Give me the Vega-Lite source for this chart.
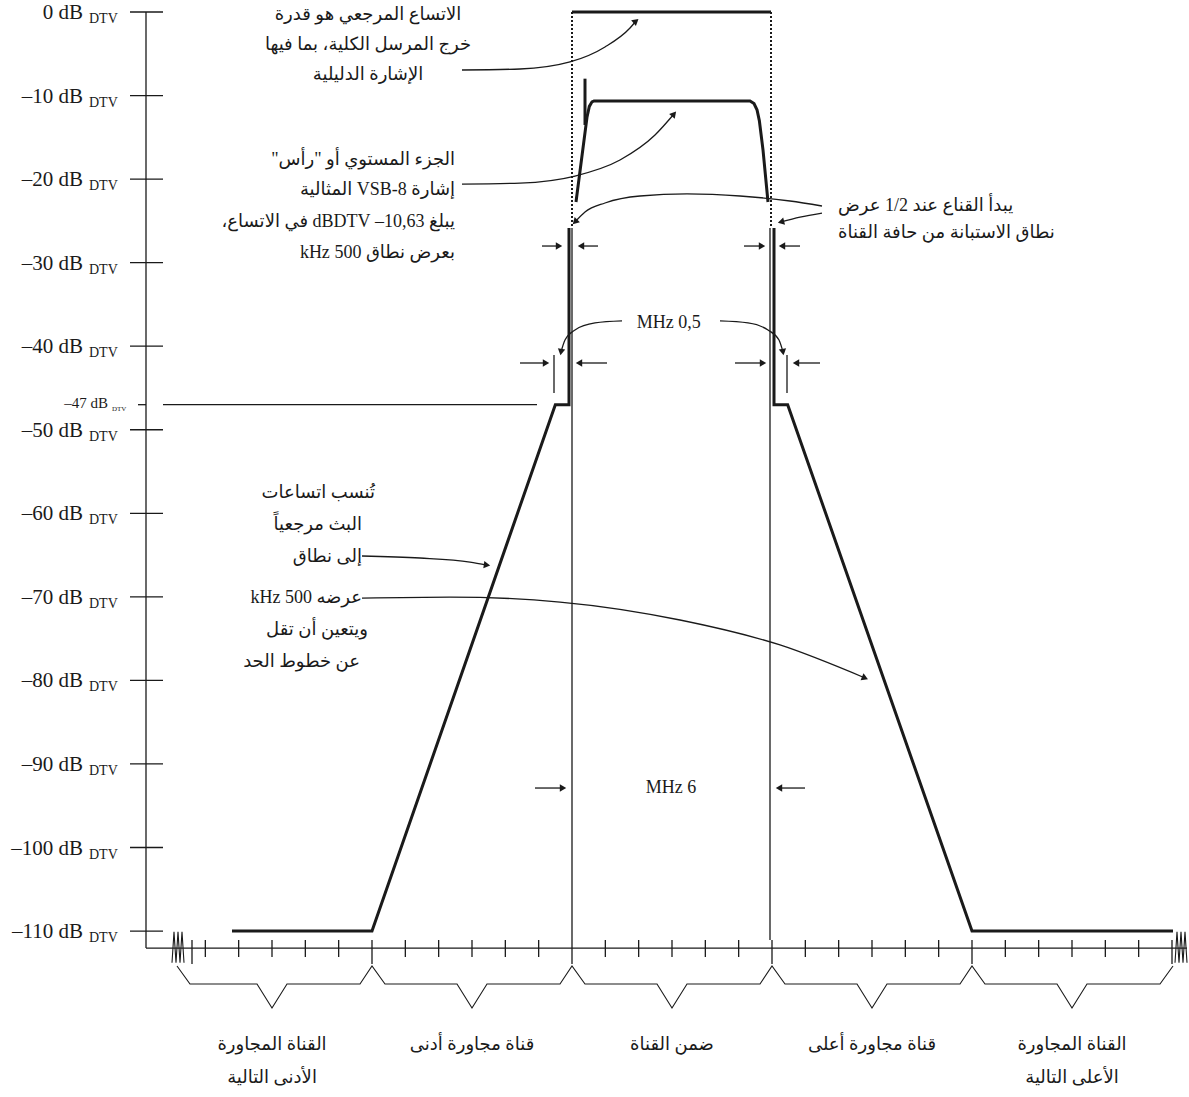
{
  "$schema": "https://vega.github.io/schema/vega-lite/v6.json",
  "width": 1189,
  "height": 1097,
  "padding": 0,
  "autosize": {"type": "none"},
  "background": "white",
  "config": {"view": {"stroke": null}},
  "datasets": {
    "segs": [
      {"x": -12.78, "y": 0, "x2": -12.78, "y2": -112.03},
      {"x": -12.78, "y": -112.03, "x2": 18.45, "y2": -112.03},
      {"x": -13.26, "y": 0, "x2": -12.27, "y2": 0},
      {"x": -13.26, "y": -10, "x2": -12.27, "y2": -10},
      {"x": -13.26, "y": -20, "x2": -12.27, "y2": -20},
      {"x": -13.26, "y": -30, "x2": -12.27, "y2": -30},
      {"x": -13.26, "y": -40, "x2": -12.27, "y2": -40},
      {"x": -13.26, "y": -50, "x2": -12.27, "y2": -50},
      {"x": -13.26, "y": -60, "x2": -12.27, "y2": -60},
      {"x": -13.26, "y": -70, "x2": -12.27, "y2": -70},
      {"x": -13.26, "y": -80, "x2": -12.27, "y2": -80},
      {"x": -13.26, "y": -90, "x2": -12.27, "y2": -90},
      {"x": -13.26, "y": -100, "x2": -12.27, "y2": -100},
      {"x": -13.26, "y": -110, "x2": -12.27, "y2": -110},
      {"x": -13.02, "y": -47, "x2": -12.78, "y2": -47},
      {"x": -12.27, "y": -47, "x2": -1.05, "y2": -47},
      {"x": -11, "y": -111.07, "x2": -11, "y2": -113.11},
      {"x": -10, "y": -111.07, "x2": -10, "y2": -113.11},
      {"x": -9, "y": -111.07, "x2": -9, "y2": -113.11},
      {"x": -8, "y": -111.07, "x2": -8, "y2": -113.11},
      {"x": -7, "y": -111.07, "x2": -7, "y2": -113.11},
      {"x": -5, "y": -111.07, "x2": -5, "y2": -113.11},
      {"x": -4, "y": -111.07, "x2": -4, "y2": -113.11},
      {"x": -3, "y": -111.07, "x2": -3, "y2": -113.11},
      {"x": -2, "y": -111.07, "x2": -2, "y2": -113.11},
      {"x": -1, "y": -111.07, "x2": -1, "y2": -113.11},
      {"x": 1, "y": -111.07, "x2": 1, "y2": -113.11},
      {"x": 2, "y": -111.07, "x2": 2, "y2": -113.11},
      {"x": 3, "y": -111.07, "x2": 3, "y2": -113.11},
      {"x": 4, "y": -111.07, "x2": 4, "y2": -113.11},
      {"x": 5, "y": -111.07, "x2": 5, "y2": -113.11},
      {"x": 7, "y": -111.07, "x2": 7, "y2": -113.11},
      {"x": 8, "y": -111.07, "x2": 8, "y2": -113.11},
      {"x": 9, "y": -111.07, "x2": 9, "y2": -113.11},
      {"x": 10, "y": -111.07, "x2": 10, "y2": -113.11},
      {"x": 11, "y": -111.07, "x2": 11, "y2": -113.11},
      {"x": 13, "y": -111.07, "x2": 13, "y2": -113.11},
      {"x": 14, "y": -111.07, "x2": 14, "y2": -113.11},
      {"x": 15, "y": -111.07, "x2": 15, "y2": -113.11},
      {"x": 16, "y": -111.07, "x2": 16, "y2": -113.11},
      {"x": 17, "y": -111.07, "x2": 17, "y2": -113.11},
      {"x": -11.4, "y": -111.07, "x2": -11.4, "y2": -113.94},
      {"x": -6, "y": -111.07, "x2": -6, "y2": -113.94},
      {"x": 0, "y": -111.07, "x2": 0, "y2": -113.94},
      {"x": 6, "y": -111.07, "x2": 6, "y2": -113.94},
      {"x": 12, "y": -111.07, "x2": 12, "y2": -113.94},
      {"x": 18, "y": -111.07, "x2": 18, "y2": -113.94},
      {"x": 0, "y": -25.85, "x2": 0, "y2": -111.07},
      {"x": 5.94, "y": -25.85, "x2": 5.94, "y2": -111.07},
      {"x": -0.54, "y": -41.05, "x2": -0.54, "y2": -45.6},
      {"x": 6.45, "y": -41.05, "x2": 6.45, "y2": -45.6},
      {"x": -0.9, "y": -28.01, "x2": -0.39, "y2": -28.01},
      {"x": 0.78, "y": -28.01, "x2": 0.27, "y2": -28.01},
      {"x": 5.16, "y": -28.01, "x2": 5.7, "y2": -28.01},
      {"x": 6.84, "y": -28.01, "x2": 6.3, "y2": -28.01},
      {"x": -1.56, "y": -42.01, "x2": -0.78, "y2": -42.01},
      {"x": 1.05, "y": -42.01, "x2": 0.21, "y2": -42.01},
      {"x": 4.89, "y": -42.01, "x2": 5.73, "y2": -42.01},
      {"x": 7.44, "y": -42.01, "x2": 6.72, "y2": -42.01},
      {"x": -1.11, "y": -92.88, "x2": -0.27, "y2": -92.88},
      {"x": 6.99, "y": -92.88, "x2": 6.21, "y2": -92.88}
    ],
    "thickSegs": [
      {"x": 0, "y": 0, "x2": 5.97, "y2": 0},
      {"x": 0.39, "y": -7.98, "x2": 0.39, "y2": -13.52}
    ],
    "dotted": [
      {"x": 0, "y": 0, "x2": 0, "y2": -25.85},
      {"x": 5.97, "y": 0, "x2": 5.97, "y2": -25.85}
    ],
    "thick": [
      {"g": "maskL", "i": 1, "x": -10.2, "y": -110},
      {"g": "maskL", "i": 2, "x": -6, "y": -110},
      {"g": "maskL", "i": 3, "x": -0.5, "y": -47},
      {"g": "maskL", "i": 4, "x": -0.09, "y": -47},
      {"g": "maskL", "i": 5, "x": -0.09, "y": -25.85},
      {"g": "maskR", "i": 1, "x": 6.06, "y": -25.85},
      {"g": "maskR", "i": 2, "x": 6.06, "y": -47},
      {"g": "maskR", "i": 3, "x": 6.47, "y": -47},
      {"g": "maskR", "i": 4, "x": 12, "y": -110},
      {"g": "maskR", "i": 5, "x": 18.03, "y": -110},
      {"g": "sig", "i": 1, "x": 0.12, "y": -22.74},
      {"g": "sig", "i": 2, "x": 0.45, "y": -12.6},
      {"g": "sig", "i": 3, "x": 0.52, "y": -11.3},
      {"g": "sig", "i": 4, "x": 0.6, "y": -10.75},
      {"g": "sig", "i": 5, "x": 0.66, "y": -10.65},
      {"g": "sig", "i": 6, "x": 5.34, "y": -10.65},
      {"g": "sig", "i": 7, "x": 5.46, "y": -10.95},
      {"g": "sig", "i": 8, "x": 5.55, "y": -11.7},
      {"g": "sig", "i": 9, "x": 5.62, "y": -13.0},
      {"g": "sig", "i": 10, "x": 5.73, "y": -16.5},
      {"g": "sig", "i": 11, "x": 5.88, "y": -22.74}
    ],
    "thin": [
      {"g": "br", "x": -11.85, "y": -114.18},
      {"g": "br", "x": -11.46, "y": -116.34},
      {"g": "br", "x": -9.45, "y": -116.34},
      {"g": "br", "x": -9.0, "y": -119.21},
      {"g": "br", "x": -8.55, "y": -116.34},
      {"g": "br", "x": -6.36, "y": -116.34},
      {"g": "br", "x": -6.0, "y": -114.18},
      {"g": "br", "x": -5.61, "y": -116.34},
      {"g": "br", "x": -3.45, "y": -116.34},
      {"g": "br", "x": -3.0, "y": -119.21},
      {"g": "br", "x": -2.55, "y": -116.34},
      {"g": "br", "x": -0.36, "y": -116.34},
      {"g": "br", "x": 0.0, "y": -114.18},
      {"g": "br", "x": 0.39, "y": -116.34},
      {"g": "br", "x": 2.55, "y": -116.34},
      {"g": "br", "x": 3.0, "y": -119.21},
      {"g": "br", "x": 3.45, "y": -116.34},
      {"g": "br", "x": 5.64, "y": -116.34},
      {"g": "br", "x": 6.0, "y": -114.18},
      {"g": "br", "x": 6.39, "y": -116.34},
      {"g": "br", "x": 8.55, "y": -116.34},
      {"g": "br", "x": 9.0, "y": -119.21},
      {"g": "br", "x": 9.45, "y": -116.34},
      {"g": "br", "x": 11.64, "y": -116.34},
      {"g": "br", "x": 12.0, "y": -114.18},
      {"g": "br", "x": 12.39, "y": -116.34},
      {"g": "br", "x": 14.55, "y": -116.34},
      {"g": "br", "x": 15.0, "y": -119.21},
      {"g": "br", "x": 15.45, "y": -116.34},
      {"g": "br", "x": 17.64, "y": -116.34},
      {"g": "br", "x": 18.03, "y": -114.18},
      {"g": "zl", "x": -12.0, "y": -113.8},
      {"g": "zl", "x": -11.94, "y": -110.1},
      {"g": "zl", "x": -11.88, "y": -113.8},
      {"g": "zl", "x": -11.82, "y": -110.1},
      {"g": "zl", "x": -11.76, "y": -113.8},
      {"g": "zl", "x": -11.7, "y": -110.1},
      {"g": "zl", "x": -11.64, "y": -113.8},
      {"g": "zr", "x": 18.09, "y": -113.8},
      {"g": "zr", "x": 18.15, "y": -110.1},
      {"g": "zr", "x": 18.21, "y": -113.8},
      {"g": "zr", "x": 18.27, "y": -110.1},
      {"g": "zr", "x": 18.33, "y": -113.8},
      {"g": "zr", "x": 18.39, "y": -110.1},
      {"g": "zr", "x": 18.45, "y": -113.8}
    ],
    "curves": [
      {"g": "a", "x": -3.3, "y": -6.94},
      {"g": "a", "x": -1.56, "y": -6.82},
      {"g": "a", "x": -0.06, "y": -5.98},
      {"g": "a", "x": 0.99, "y": -4.19},
      {"g": "a", "x": 1.74, "y": -1.92},
      {"g": "a", "x": 1.92, "y": -1.08},
      {"g": "b", "x": -3.3, "y": -20.59},
      {"g": "b", "x": -1.56, "y": -20.47},
      {"g": "b", "x": 0.09, "y": -19.63},
      {"g": "b", "x": 1.44, "y": -17.71},
      {"g": "b", "x": 2.49, "y": -14.72},
      {"g": "b", "x": 3.06, "y": -12.21},
      {"g": "c", "x": 7.5, "y": -23.22},
      {"g": "c", "x": 6.54, "y": -22.62},
      {"g": "c", "x": 5.04, "y": -22.02},
      {"g": "c", "x": 3.45, "y": -21.78},
      {"g": "c", "x": 2.04, "y": -22.02},
      {"g": "c", "x": 0.99, "y": -22.86},
      {"g": "c", "x": 0.39, "y": -23.94},
      {"g": "c", "x": 0.09, "y": -25.13},
      {"g": "d", "x": 7.5, "y": -24.06},
      {"g": "d", "x": 6.84, "y": -24.54},
      {"g": "d", "x": 6.27, "y": -25.13},
      {"g": "el", "x": 1.5, "y": -36.98},
      {"g": "el", "x": 0.69, "y": -37.22},
      {"g": "el", "x": 0.09, "y": -38.06},
      {"g": "el", "x": -0.21, "y": -39.26},
      {"g": "el", "x": -0.33, "y": -40.69},
      {"g": "er", "x": 4.44, "y": -36.98},
      {"g": "er", "x": 5.28, "y": -37.22},
      {"g": "er", "x": 5.88, "y": -38.06},
      {"g": "er", "x": 6.21, "y": -39.26},
      {"g": "er", "x": 6.33, "y": -40.69},
      {"g": "f1", "x": -6.3, "y": -65.11},
      {"g": "f1", "x": -4.56, "y": -65.35},
      {"g": "f1", "x": -3.06, "y": -65.83},
      {"g": "f1", "x": -2.55, "y": -66.19},
      {"g": "f2", "x": -6.3, "y": -70.14},
      {"g": "f2", "x": -3.66, "y": -70.02},
      {"g": "f2", "x": -0.36, "y": -70.62},
      {"g": "f2", "x": 3.24, "y": -72.77},
      {"g": "f2", "x": 6.24, "y": -75.76},
      {"g": "f2", "x": 8.79, "y": -79.71}
    ],
    "heads": [
      {"x": -0.39, "y": -28.01, "heading": 90},
      {"x": 0.27, "y": -28.01, "heading": 270},
      {"x": 5.7, "y": -28.01, "heading": 90},
      {"x": 6.3, "y": -28.01, "heading": 270},
      {"x": -0.78, "y": -42.01, "heading": 90},
      {"x": 0.21, "y": -42.01, "heading": 270},
      {"x": 5.73, "y": -42.01, "heading": 90},
      {"x": 6.72, "y": -42.01, "heading": 270},
      {"x": -0.27, "y": -92.88, "heading": 90},
      {"x": 6.21, "y": -92.88, "heading": 270},
      {"x": 1.92, "y": -1.08, "heading": 50},
      {"x": 3.06, "y": -12.21, "heading": 40},
      {"x": 0.09, "y": -25.13, "heading": 225},
      {"x": 6.27, "y": -25.13, "heading": 256},
      {"x": -0.33, "y": -40.69, "heading": 190},
      {"x": 6.33, "y": -40.69, "heading": 170},
      {"x": -2.55, "y": -66.19, "heading": 98},
      {"x": 8.79, "y": -79.71, "heading": 113}
    ],
    "ylab": [
      {"y": 0, "label": "0 dB"},
      {"y": -10, "label": "–10 dB"},
      {"y": -20, "label": "–20 dB"},
      {"y": -30, "label": "–30 dB"},
      {"y": -40, "label": "–40 dB"},
      {"y": -50, "label": "–50 dB"},
      {"y": -60, "label": "–60 dB"},
      {"y": -70, "label": "–70 dB"},
      {"y": -80, "label": "–80 dB"},
      {"y": -90, "label": "–90 dB"},
      {"y": -100, "label": "–100 dB"},
      {"y": -110, "label": "–110 dB"}
    ],
    "ylab47": [{"y": -47, "label": "–47 dB"}],
    "notesC": [
      {"x": -6.12, "y": -0.36, "t": "\u202bالاتساع المرجعي هو قدرة\u202c"},
      {"x": -6.12, "y": -3.95, "t": "\u202bخرج المرسل الكلية، بما فيها\u202c"},
      {"x": -6.12, "y": -7.54, "t": "\u202bالإشارة الدليلية\u202c"},
      {"x": -9, "y": -123.64, "t": "\u202bالقناة المجاورة\u202c"},
      {"x": -9, "y": -127.59, "t": "\u202bالأدنى التالية\u202c"},
      {"x": -3, "y": -123.64, "t": "\u202bقناة مجاورة أدنى\u202c"},
      {"x": 3, "y": -123.64, "t": "\u202bضمن القناة\u202c"},
      {"x": 9, "y": -123.64, "t": "\u202bقناة مجاورة أعلى\u202c"},
      {"x": 15, "y": -123.64, "t": "\u202bالقناة المجاورة\u202c"},
      {"x": 15, "y": -127.59, "t": "\u202bالأعلى التالية\u202c"},
      {"x": 2.9, "y": -37.22, "t": "MHz 0,5"},
      {"x": 2.97, "y": -92.88, "t": "MHz 6"}
    ],
    "notesR": [
      {"x": -3.51, "y": -17.71, "t": "\u202bالجزء المستوي أو \"رأس\"\u202c"},
      {"x": -3.51, "y": -21.3, "t": "\u202bإشارة 8-VSB المثالية\u202c"},
      {"x": -3.51, "y": -25.13, "t": "\u202bيبلغ \u202a–10,63\u202c\u200f dBDTV\u200f في الاتساع،\u202c"},
      {"x": -3.51, "y": -28.84, "t": "\u202bبعرض نطاق 500 kHz\u202c"},
      {"x": -5.91, "y": -57.57, "t": "\u202bتُنسب اتساعات\u202c"},
      {"x": -6.3, "y": -61.4, "t": "\u202bالبث مرجعياً\u202c"},
      {"x": -6.3, "y": -65.23, "t": "\u202bإلى نطاق\u202c"},
      {"x": -6.3, "y": -70.14, "t": "\u202bعرضه 500 kHz\u202c"},
      {"x": -6.12, "y": -73.97, "t": "\u202bويتعين أن تقل\u202c"},
      {"x": -6.36, "y": -77.8, "t": "\u202bعن خطوط الحد\u202c"}
    ],
    "notesL": [
      {"x": 7.98, "y": -23.22, "t": "\u202bيبدأ القناع عند 1/2 عرض\u202c"},
      {"x": 7.98, "y": -26.45, "t": "\u202bنطاق الاستبانة من حافة القناة\u202c"}
    ]
  },
  "encoding": {
    "y": {"field": "y", "type": "quantitative", "scale": {"domain": [-129.86, 1.436], "nice": false, "zero": false}, "axis": null}
  },
  "layer": [
    {"data": {"name": "segs"}, "mark": {"type": "rule", "color": "#1a1a1a", "strokeWidth": 1.3},
     "encoding": {"x": {"field": "x", "type": "quantitative", "scale": {"domain": [-17.16, 18.51], "nice": false, "zero": false}, "axis": null}, "x2": {"field": "x2"}, "y2": {"field": "y2"}}},
    {"data": {"name": "thickSegs"}, "mark": {"type": "rule", "color": "#1a1a1a", "strokeWidth": 3},
     "encoding": {"x": {"field": "x", "type": "quantitative", "scale": {"domain": [-17.16, 18.51], "nice": false, "zero": false}, "axis": null}, "x2": {"field": "x2"}, "y2": {"field": "y2"}}},
    {"data": {"name": "dotted"}, "mark": {"type": "rule", "color": "#1a1a1a", "strokeWidth": 2, "strokeDash": [2, 2]},
     "encoding": {"x": {"field": "x", "type": "quantitative", "scale": {"domain": [-17.16, 18.51], "nice": false, "zero": false}, "axis": null}, "x2": {"field": "x2"}, "y2": {"field": "y2"}}},
    {"data": {"name": "thick"}, "mark": {"type": "line", "color": "#1a1a1a", "strokeWidth": 3},
     "encoding": {"x": {"field": "x", "type": "quantitative", "scale": {"domain": [-17.16, 18.51], "nice": false, "zero": false}, "axis": null}, "detail": {"field": "g", "type": "nominal"}, "order": {"field": "i", "type": "quantitative"}}},
    {"data": {"name": "thin"}, "mark": {"type": "line", "color": "#1a1a1a", "strokeWidth": 1.1},
     "encoding": {"x": {"field": "x", "type": "quantitative", "scale": {"domain": [-17.16, 18.51], "nice": false, "zero": false}, "axis": null}, "detail": {"field": "g", "type": "nominal"}}},
    {"data": {"name": "curves"}, "mark": {"type": "line", "color": "#1a1a1a", "strokeWidth": 1.3, "interpolate": "monotone"},
     "encoding": {"x": {"field": "x", "type": "quantitative", "scale": {"domain": [-17.16, 18.51], "nice": false, "zero": false}, "axis": null}, "detail": {"field": "g", "type": "nominal"}}},
    {"data": {"name": "heads"}, "mark": {"type": "point", "shape": "triangle-up", "filled": true, "color": "#1a1a1a", "size": 55, "opacity": 1},
     "encoding": {"x": {"field": "x", "type": "quantitative", "scale": {"domain": [-17.16, 18.51], "nice": false, "zero": false}, "axis": null}, "angle": {"field": "heading", "type": "quantitative", "scale": null}}},
    {"data": {"name": "ylab"}, "mark": {"type": "text", "align": "right", "baseline": "alphabetic", "dy": 7, "fontSize": 21, "font": "Liberation Serif", "color": "#1a1a1a"},
     "encoding": {"x": {"datum": -14.67, "type": "quantitative", "scale": {"domain": [-17.16, 18.51], "nice": false, "zero": false}, "axis": null}, "text": {"field": "label"}}},
    {"data": {"name": "ylab"}, "mark": {"type": "text", "align": "left", "baseline": "alphabetic", "dy": 11, "fontSize": 14, "font": "Liberation Serif", "color": "#1a1a1a"},
     "encoding": {"x": {"datum": -14.49, "type": "quantitative", "scale": {"domain": [-17.16, 18.51], "nice": false, "zero": false}, "axis": null}, "text": {"value": "DTV"}}},
    {"data": {"name": "ylab47"}, "mark": {"type": "text", "align": "right", "baseline": "alphabetic", "dy": 3, "fontSize": 15, "font": "Liberation Serif", "color": "#1a1a1a"},
     "encoding": {"x": {"datum": -13.92, "type": "quantitative", "scale": {"domain": [-17.16, 18.51], "nice": false, "zero": false}, "axis": null}, "text": {"field": "label"}}},
    {"data": {"name": "ylab47"}, "mark": {"type": "text", "align": "left", "baseline": "alphabetic", "dy": 6, "fontSize": 7, "font": "Liberation Serif", "color": "#1a1a1a"},
     "encoding": {"x": {"datum": -13.8, "type": "quantitative", "scale": {"domain": [-17.16, 18.51], "nice": false, "zero": false}, "axis": null}, "text": {"value": "DTV"}}},
    {"data": {"name": "notesC"}, "mark": {"type": "text", "align": "center", "baseline": "middle", "fontSize": 18, "font": "Liberation Serif, DejaVu Sans", "color": "#1a1a1a"},
     "encoding": {"x": {"field": "x", "type": "quantitative", "scale": {"domain": [-17.16, 18.51], "nice": false, "zero": false}, "axis": null}, "text": {"field": "t"}}},
    {"data": {"name": "notesR"}, "mark": {"type": "text", "align": "right", "baseline": "middle", "fontSize": 18, "font": "Liberation Serif, DejaVu Sans", "color": "#1a1a1a"},
     "encoding": {"x": {"field": "x", "type": "quantitative", "scale": {"domain": [-17.16, 18.51], "nice": false, "zero": false}, "axis": null}, "text": {"field": "t"}}},
    {"data": {"name": "notesL"}, "mark": {"type": "text", "align": "left", "baseline": "middle", "fontSize": 18, "font": "Liberation Serif, DejaVu Sans", "color": "#1a1a1a"},
     "encoding": {"x": {"field": "x", "type": "quantitative", "scale": {"domain": [-17.16, 18.51], "nice": false, "zero": false}, "axis": null}, "text": {"field": "t"}}}
  ]
}
